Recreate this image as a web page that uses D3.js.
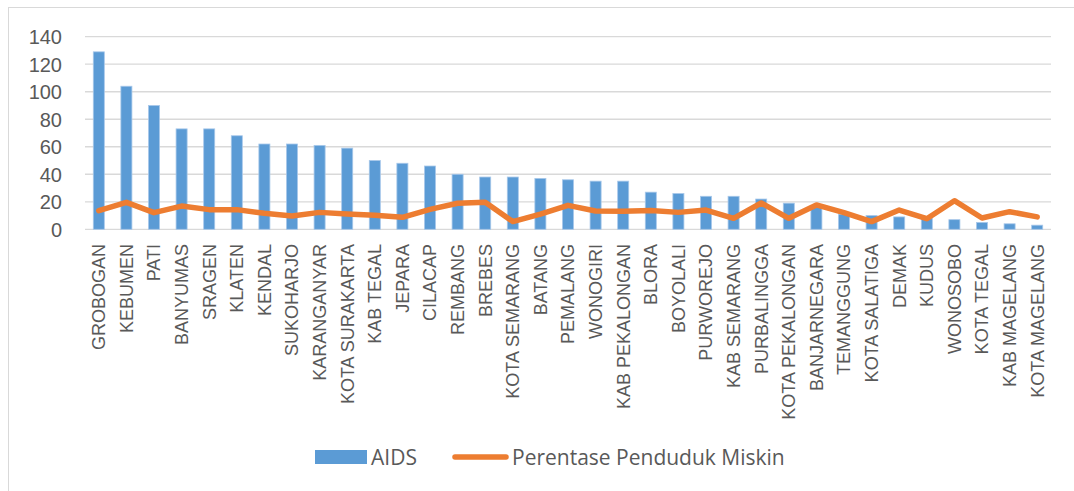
<!DOCTYPE html>
<html>
<head>
<meta charset="utf-8">
<script src="https://cdn.jsdelivr.net/npm/d3@7"></script>
<style>
  html, body { margin: 0; padding: 0; background: #fff; }
  svg { display: block; font-family: "Open Sans", "Noto Sans", sans-serif; }
</style>
</head>
<body>
<svg id="chart" width="1074" height="491"></svg>
<script>
// Kabupaten/kota in Central Java, sorted by AIDS cases
const categories = [
  "GROBOGAN", "KEBUMEN", "PATI", "BANYUMAS", "SRAGEN", "KLATEN", "KENDAL",
  "SUKOHARJO", "KARANGANYAR", "KOTA SURAKARTA", "KAB TEGAL", "JEPARA",
  "CILACAP", "REMBANG", "BREBES", "KOTA SEMARANG", "BATANG", "PEMALANG",
  "WONOGIRI", "KAB PEKALONGAN", "BLORA", "BOYOLALI", "PURWOREJO",
  "KAB SEMARANG", "PURBALINGGA", "KOTA PEKALONGAN", "BANJARNEGARA",
  "TEMANGGUNG", "KOTA SALATIGA", "DEMAK", "KUDUS", "WONOSOBO", "KOTA TEGAL",
  "KAB MAGELANG", "KOTA MAGELANG"
];

// AIDS cases
const aids = [
  129, 104, 90, 73, 73, 68, 62, 62, 61, 59, 50, 48, 46, 40, 38, 38, 37, 36,
  35, 35, 27, 26, 24, 24, 22, 19, 17, 11, 10, 9, 8, 7, 5, 4, 3
];

// Percentage of poor population
const miskin = [
  13.6, 19.6, 12.1, 16.9, 14.3, 14.3, 11.6, 9.7, 12.3, 11.1, 10.2, 8.7,
  14.5, 18.9, 19.6, 5.6, 11.1, 17.4, 13.3, 13.1, 13.6, 12.3, 14.0, 8.0,
  19.1, 8.0, 17.7, 12.1, 5.6, 14.0, 7.7, 20.8, 8.2, 12.8, 9.0
];

const yTicks = [0, 20, 40, 60, 80, 100, 120, 140];
const seriesNames = ["AIDS", "Perentase Penduduk Miskin"];

const svg = d3.select("#chart");
const plot = { left: 85, right: 1051, top: 36.7, bottom: 229.3 };

const barColor = "#5B9BD5";
const lineColor = "#ED7D31";
const textColor = "#595959";
const gridColor = "#D9D9D9";

// Outer chart frame
svg.append("rect")
  .attr("x", 8.5).attr("y", 7.5)
  .attr("width", 1080).attr("height", 500)
  .attr("fill", "none")
  .attr("stroke", "#D9D9D9")
  .attr("stroke-width", 1);

const x = d3.scaleBand()
  .domain(categories)
  .range([plot.left, plot.right])
  .paddingInner(0.6)
  .paddingOuter(0.3);

const xPoint = d => x(d) + x.bandwidth() / 2;

const y = d3.scaleLinear()
  .domain([0, 140])
  .range([plot.bottom, plot.top]);

// Gridlines
svg.append("g")
  .selectAll("line")
  .data(yTicks)
  .join("line")
  .attr("x1", plot.left).attr("x2", plot.right)
  .attr("y1", d => y(d)).attr("y2", d => y(d))
  .attr("stroke", gridColor)
  .attr("stroke-width", 1.3);

// Y axis labels
const yAxis = d3.axisLeft(y).tickValues(yTicks).tickSize(0).tickPadding(0);
const gy = svg.append("g")
  .attr("transform", `translate(62,0)`)
  .call(yAxis);
gy.select(".domain").remove();
gy.selectAll("text")
  .attr("fill", textColor)
  .style("font-size", "20px")
  .attr("dy", "0.36em");

// Bars
svg.append("g")
  .selectAll("rect")
  .data(aids)
  .join("rect")
  .attr("x", (d, i) => x(categories[i]))
  .attr("y", d => y(d))
  .attr("width", x.bandwidth())
  .attr("height", d => y(0) - y(d))
  .attr("fill", barColor)
  .attr("stroke", "#A8C8EA")
  .attr("stroke-width", 0.8);

// Poverty line
const line = d3.line()
  .x((d, i) => xPoint(categories[i]))
  .y(d => y(d));

svg.append("path")
  .datum(miskin)
  .attr("d", line)
  .attr("fill", "none")
  .attr("stroke", lineColor)
  .attr("stroke-width", 5.5)
  .attr("stroke-linejoin", "round")
  .attr("stroke-linecap", "round");

// Category labels, rotated
const xAxis = d3.axisBottom(x).tickSize(0).tickPadding(0);
const gx = svg.append("g")
  .attr("transform", `translate(0,244)`)
  .call(xAxis);
gx.select(".domain").remove();
gx.selectAll("text")
  .attr("fill", textColor)
  .style("font-size", "18px")
  .attr("transform", "rotate(-90)")
  .attr("text-anchor", "end")
  .attr("x", 0)
  .attr("y", 0)
  .attr("dy", "0.35em");

// Legend
const legend = svg.append("g");
legend.append("rect")
  .attr("x", 315).attr("y", 450)
  .attr("width", 52).attr("height", 14)
  .attr("fill", barColor);
legend.append("text")
  .attr("x", 371).attr("y", 465)
  .attr("fill", textColor)
  .style("font-size", "21px")
  .text(seriesNames[0]);
legend.append("line")
  .attr("x1", 455).attr("x2", 506)
  .attr("y1", 457).attr("y2", 457)
  .attr("stroke", lineColor)
  .attr("stroke-width", 5.5)
  .attr("stroke-linecap", "round");
legend.append("text")
  .attr("x", 512).attr("y", 465)
  .attr("fill", textColor)
  .style("font-size", "21px")
  .text(seriesNames[1]);
</script>
</body>
</html>
